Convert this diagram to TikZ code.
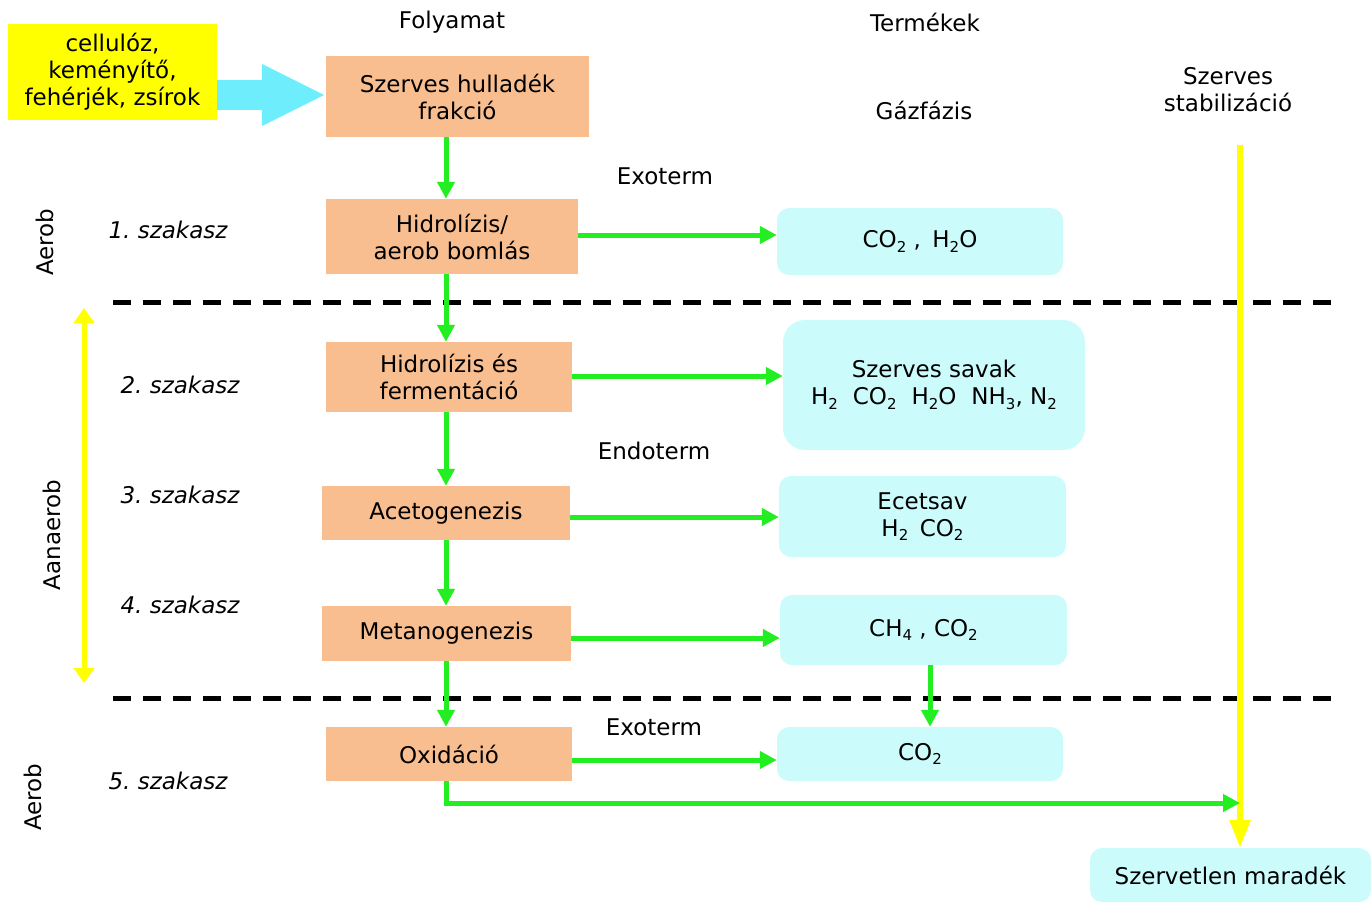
\documentclass[tikz,border=0pt]{standalone}
\usepackage{fontspec}
\setmainfont{DejaVu Sans}
\usetikzlibrary{arrows.meta,calc}
\definecolor{boxorange}{RGB}{249,190,143}
\definecolor{prodcyan}{RGB}{204,251,252}
\definecolor{flowgreen}{RGB}{34,238,34}
\definecolor{feedcyan}{RGB}{110,238,252}
\definecolor{markyellow}{RGB}{255,255,0}
% chemical subscript in the text font
\newcommand\sbs[1]{\raisebox{-0.35ex}{\fontsize{15}{15}\selectfont #1}}
\newcommand\gap{\hspace{0.65em}}

\begin{document}
\frenchspacing
\begin{tikzpicture}[x=1pt,y=-1pt,
  every node/.style={font=\fontsize{23}{27}\selectfont, align=center, inner sep=0pt},
  stage/.style={fill=boxorange},
  prod/.style={fill=prodcyan, rounded corners=12pt},
  feed/.style={fill=markyellow},
  lbl/.style={font=\fontsize{23}{27}\selectfont\itshape},
  flow/.style={draw=flowgreen, line width=5pt, -{Triangle[length=17pt,width=17pt]}},
  sep/.style={line width=5pt, dash pattern=on 18pt off 12pt},
  yarrow/.style={draw=markyellow, line width=6pt, -{Triangle[length=28pt,width=20pt]}},
  ydouble/.style={draw=markyellow, line width=5pt,
    {Triangle[length=15pt,width=20pt]}-{Triangle[length=15pt,width=20pt]}}
]
\useasboundingbox (0,0) rectangle (1371,903);

% column headings
\node (hproc) at (452,22) {Folyamat};
\node (hprod) at (925,22) {Termékek};
\node (hgas) at (924,110) {Gázfázis};
\node (hstab) at (1228,90) {Szerves\\stabilizáció};

% input materials
\node[feed, minimum width=209pt, minimum height=96pt] (src) at (112.5,72)
  {cellulóz,\\keményítő,\\fehérjék, zsírok};

% process stages
\node[stage, minimum width=263pt, minimum height=81pt] (s0) at (457.5,96.5) {Szerves hulladék\\frakció};
\node[stage, minimum width=252pt, minimum height=75pt] (s1) at (452,236.5) {Hidrolízis/\\aerob bomlás};
\node[stage, minimum width=246pt, minimum height=70pt] (s2) at (449,377) {Hidrolízis és\\fermentáció};
\node[stage, minimum width=248pt, minimum height=54pt] (s3) at (446,513) {Acetogenezis};
\node[stage, minimum width=249pt, minimum height=55pt] (s4) at (446.5,633.5) {Metanogenezis};
\node[stage, minimum width=246pt, minimum height=54pt] (s5) at (449,754) {Oxidáció};

% products
\node[prod, minimum width=286pt, minimum height=67pt] (p1) at (920,241.5) {CO\sbs{2} ,\enspace H\sbs{2}O};
\node[prod, rounded corners=22pt, minimum width=302pt, minimum height=130pt] (p2) at (934,385)
  {Szerves savak\\H\sbs{2}\gap CO\sbs{2}\gap H\sbs{2}O\gap NH\sbs{3}, N\sbs{2}};
\node[prod, minimum width=287pt, minimum height=81pt] (p3) at (922.5,516.5) {Ecetsav\\H\sbs{2}\enspace CO\sbs{2}};
\node[prod, minimum width=287pt, minimum height=70pt] (p4) at (923.5,630) {CH\sbs{4} , CO\sbs{2}};
\node[prod, minimum width=286pt, minimum height=54pt] (p5) at (920,754) {CO\sbs{2}};
\node[prod, minimum width=281pt, minimum height=54pt] (p6) at (1230.5,875) {Szervetlen maradék};

% heat labels
\node (exo1) at (665,176) {Exoterm};
\node (endo) at (654,451) {Endoterm};
\node (exo2) at (654,727) {Exoterm};

% stage labels
\node[lbl] (l1) at (168,230) {1. szakasz};
\node[lbl] (l2) at (180,385) {2. szakasz};
\node[lbl] (l3) at (180,495) {3. szakasz};
\node[lbl] (l4) at (180,605) {4. szakasz};
\node[lbl] (l5) at (168,781) {5. szakasz};

% regime labels
\node[rotate=90] (r1) at (45,242) {Aerob};
\node[rotate=90] (r2) at (52,535) {Aanaerob};
\node[rotate=90] (r3) at (33,797) {Aerob};

% phase separators
\draw[sep] (113,302) -- (1340,302);
\draw[sep] (113,698) -- (1340,698);

% feed arrow
\draw[feedcyan, line width=30pt, -{Triangle[length=64pt,width=57pt]}]
  (src.east |- 0,95) -- (s0.west |- 0,95);

% main process chain
\coordinate (spine) at (446,0);
\draw[flow] (s0.south -| spine) -- (s1.north -| spine);
\draw[flow] (s1.south -| spine) -- (s2.north -| spine);
\draw[flow] (s2.south -| spine) -- (s3.north -| spine);
\draw[flow] (s3.south -| spine) -- (s4.north -| spine);
\draw[flow] (s4.south -| spine) -- (s5.north -| spine);

% stage to product
\draw[flow] ([yshift=1.5pt]s1.east) -- ([yshift=1.5pt]s1.east -| p1.west);
\draw[flow] ([yshift=1pt]s2.east) -- ([yshift=1pt]s2.east -| p2.west);
\draw[flow] ([yshift=-4pt]s3.east) -- ([yshift=-4pt]s3.east -| p3.west);
\draw[flow] ([yshift=-4.5pt]s4.east) -- ([yshift=-4.5pt]s4.east -| p4.west);
\draw[flow] ([yshift=-6pt]s5.east) -- ([yshift=-6pt]s5.east -| p5.west);
\coordinate (gasdrop) at (930,0);
\draw[flow] (p4.south -| gasdrop) -- (p5.north -| gasdrop);

% organic stabilisation axis
\coordinate (stabtop) at (1240,145);
\coordinate (stabhit) at (1240,803);
\draw[yarrow] (stabtop) -- (stabtop |- p6.north);
\draw[flow] (s5.south -| spine) |- (stabhit);

% anaerobic range
\coordinate (anatop) at (84,308);
\coordinate (anabot) at (84,683);
\draw[ydouble] (anatop) -- (anabot);
\end{tikzpicture}
\end{document}
